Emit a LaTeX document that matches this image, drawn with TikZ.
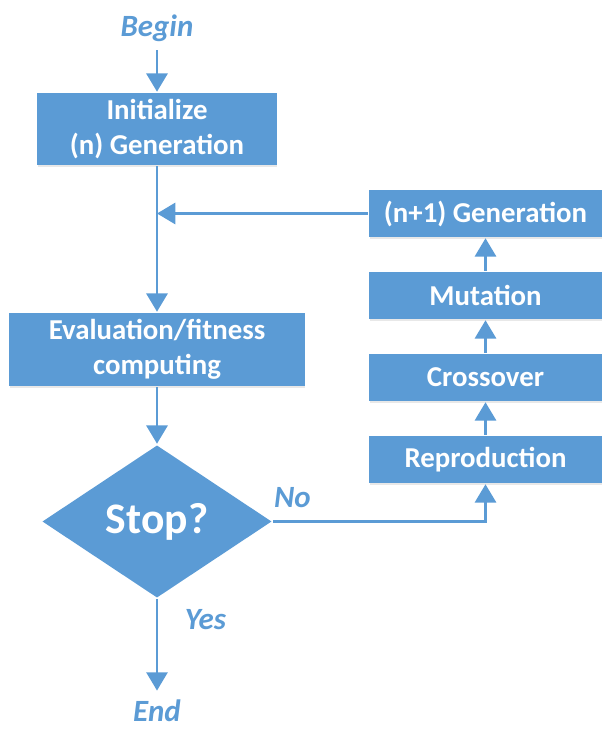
\documentclass[tikz,border=0pt]{standalone}
\usepackage{fontspec}
\setmainfont{Carlito}
\usepackage{tikz}
\usetikzlibrary{arrows.meta,%
                positioning,%
                shapes.geometric,%
                shadows}
\definecolor{gablue}{HTML}{5B9BD5}

\begin{document}
\begin{tikzpicture}[node distance=2cm, on grid,
                    line width=1.8pt, draw=gablue,
                    main node/.style={rectangle, fill=gablue, text=white, align=center,
                                      font=\fontsize{20.5}{25}\selectfont\bfseries,
                                      drop shadow={opacity=0.18, shadow xshift=0.6pt, shadow yshift=-1.6pt}},
                    step node/.style={main node, minimum width=5.825cm, minimum height=1.175cm},
                    test node/.style={diamond, fill=gablue, text=white, inner sep=0pt,
                                      minimum width=5.75cm, minimum height=3.825cm,
                                      font=\fontsize{31}{36}\selectfont\bfseries},
                    end node/.style={text=gablue, font=\fontsize{22}{26}\selectfont\bfseries\itshape},
                    arr/.style={draw=gablue, -{Triangle[width=15pt, length=13pt]}}]

  \useasboundingbox (-3.925,0.7) rectangle (11.125,-17.575);

  \node[end node] (begin) at (0,0) {Begin};
  \node[main node, minimum width=5.975cm, minimum height=1.8cm] (init) [below=2.525cm of begin]
       {Initialize\\(n) Generation};
  \node[main node, minimum width=7.375cm, minimum height=1.825cm] (eval) [below=5.5125cm of init]
       {Evaluation/fitness\\computing};
  \node[test node] (stop) [below=4.3cm of eval] {Stop?};
  \node[end node] (end) [below=4.72cm of stop] {End};

  \node[step node] (next) at (8.2125,-4.6375) {(n+1) Generation};
  \node[step node] (mut) [below=2.05cm of next] {Mutation};
  \node[step node] (cross) [below=2.05cm of mut] {Crossover};
  \node[step node] (repro) [below=2.05cm of cross] {Reproduction};

  \coordinate (join) at (next.west -| init.south);

  \path[arr]
    (begin) edge [shorten <=2pt] (init)
    (init)  edge (eval)
    (eval)  edge (stop)
    (stop)  edge [shorten >=2pt] node [end node, right=0.55cm, pos=0.22] {Yes} (end)
    (next)  edge (join)
    (mut)   edge (next)
    (cross) edge (mut)
    (repro) edge (cross);

  \draw[arr] (stop.east) -- node [end node, above=0.2cm, pos=0.09] {No} (stop.east -| repro.south) -- (repro.south);
\end{tikzpicture}
\end{document}
